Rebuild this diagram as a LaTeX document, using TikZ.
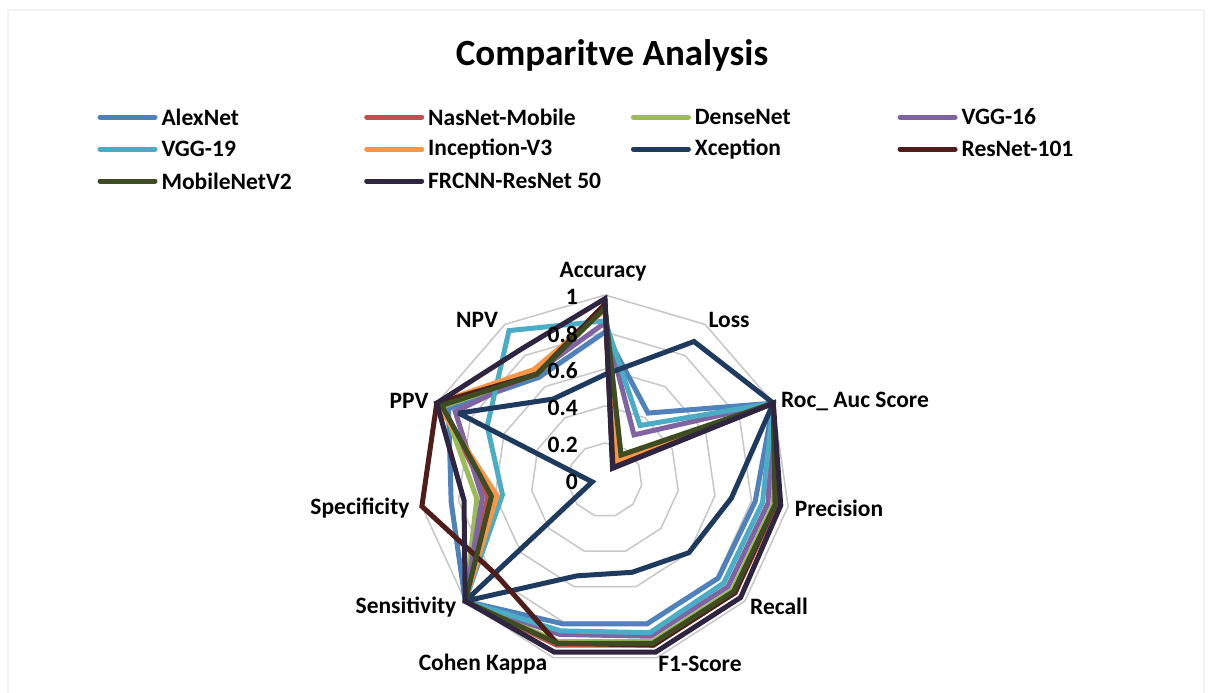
\documentclass[tikz,border=0pt]{standalone}
\usepackage{fontspec}
\setmainfont{Carlito}
\definecolor{cAlex}{HTML}{4F81BD}
\definecolor{cNas}{HTML}{C0504D}
\definecolor{cDense}{HTML}{9BBB59}
\definecolor{cVggA}{HTML}{8064A2}
\definecolor{cVggB}{HTML}{4BACC6}
\definecolor{cIncep}{HTML}{F79646}
\definecolor{cXcep}{HTML}{1F3A5F}
\definecolor{cRes}{HTML}{4F1D1A}
\definecolor{cMob}{HTML}{3D4C22}
\definecolor{cFrc}{HTML}{2F2540}
\begin{document}
\begin{tikzpicture}[
	x=1pt, y=1pt,
	txt/.style = {font=\bfseries\fontsize{23.5}{28}\selectfont, inner sep=0pt, text=black},
	ring/.style = {draw=black!22, line width=1.5pt},
	series/.style = {line width=5pt, line join=miter, miter limit=3},
	legline/.style = {line width=5pt, line cap=round},
	]
	\useasboundingbox (0,0) rectangle (1211,-693);
	\draw[black!5, line width=1.5pt] (8,-700) |- (1204,-10) -- (1204,-700);
	\node[font=\bfseries\fontsize{37}{44}\selectfont] (title) at (612,-55) {Comparitve Analysis};
	\def\R{185}
	\begin{scope}[shift={(605,-480)}]
		\coordinate (ctr) at (0,0);
		% grid rings
		\foreach \v in {0.2,0.4,0.6,0.8,1}
			\draw[ring] (90:{\v*\R}) \foreach \k in {1,...,10} { -- ({90-\k*360/11}:{\v*\R}) } -- cycle;
		% one polygon per model: Acc, Loss, Roc, Prec, Recall, F1, Kappa, Sens, Spec, PPV, NPV
		\foreach \nm/\col/\vals in {
			alex/cAlex/{0.80,0.43,1,0.82,0.81,0.81,0.81,1,0.84,0.93,0.66},
			nas/cNas/{0.95,0.08,1,0.94,0.93,0.93,0.93,1,0.64,0.97,0.69},
			dense/cDense/{0.93,0.16,1,0.92,0.91,0.91,0.91,1,0.70,0.96,0.68},
			vgga/cVggA/{0.85,0.29,1,0.89,0.88,0.88,0.87,1,0.67,0.89,0.69},
			vggb/cVggB/{0.86,0.35,1,0.86,0.85,0.86,0.85,1,0.56,0.70,0.96},
			incep/cIncep/{0.92,0.12,1,0.93,0.93,0.93,0.92,1,0.59,1,0.71},
			xcep/cXcep/{0.57,0.89,1,0.69,0.60,0.52,0.54,1,0.07,0.87,0.52},
			res/cRes/{0.95,0.08,1,0.93,0.93,0.93,0.92,0.78,1,1,0.68},
			mob/cMob/{0.93,0.16,1,0.93,0.92,0.92,0.92,1,0.62,0.97,0.68},
			frc/cFrc/{0.98,0.075,1,0.96,0.97,0.97,0.97,1,0.77,1,0.84}} {
			\foreach \v [count=\k from 0] in \vals
				\coordinate (\nm-\k) at ({90-\k*360/11}:{\v*\R});
			\draw[series, draw=\col] (\nm-0) \foreach \k in {1,...,10} { -- (\nm-\k) } -- cycle;
		}
		% value ticks
		\foreach \t in {0,0.2,0.4,0.6,0.8,1}
			\node[txt, anchor=east] (tick-\t) at (-27,{\t*\R-2}) {\t};
	\end{scope}
	% axis names
	\node[txt] (acc) at (603,-272) {Accuracy};
	\node[txt] (loss) at (729,-320) {Loss};
	\node[txt] (roc) at (855,-401) {Roc\_ Auc Score};
	\node[txt] (prec) at (839,-508) {Precision};
	\node[txt] (rec) at (779,-606) {Recall};
	\node[txt] (fone) at (700,-664) {F1-Score};
	\node[txt] (kap) at (483,-664) {Cohen Kappa};
	\node[txt] (sens) at (406,-607) {Sensitivity};
	\node[txt] (spec) at (360,-508) {Specificity};
	\node[txt] (ppv) at (409,-401) {PPV};
	\node[txt] (npv) at (477,-320) {NPV};
	% legend
	\foreach \lbl/\col [count=\i from 0] in {AlexNet/cAlex, NasNet-Mobile/cNas, DenseNet/cDense, VGG-16/cVggA,
		VGG-19/cVggB, Inception-V3/cIncep, Xception/cXcep, ResNet-101/cRes,
		MobileNetV2/cMob, FRCNN-ResNet 50/cFrc} {
		\pgfmathtruncatemacro\cl{mod(\i,4)}
		\pgfmathtruncatemacro\rw{div(\i,4)}
		\coordinate (lg-\i) at ({100+266.7*\cl},{-117-32*\rw});
		\draw[legline, \col] (lg-\i) -- ++(55,0) node[txt, anchor=west, xshift=4pt] (lt-\i) {\lbl};
	}
\end{tikzpicture}
\end{document}
